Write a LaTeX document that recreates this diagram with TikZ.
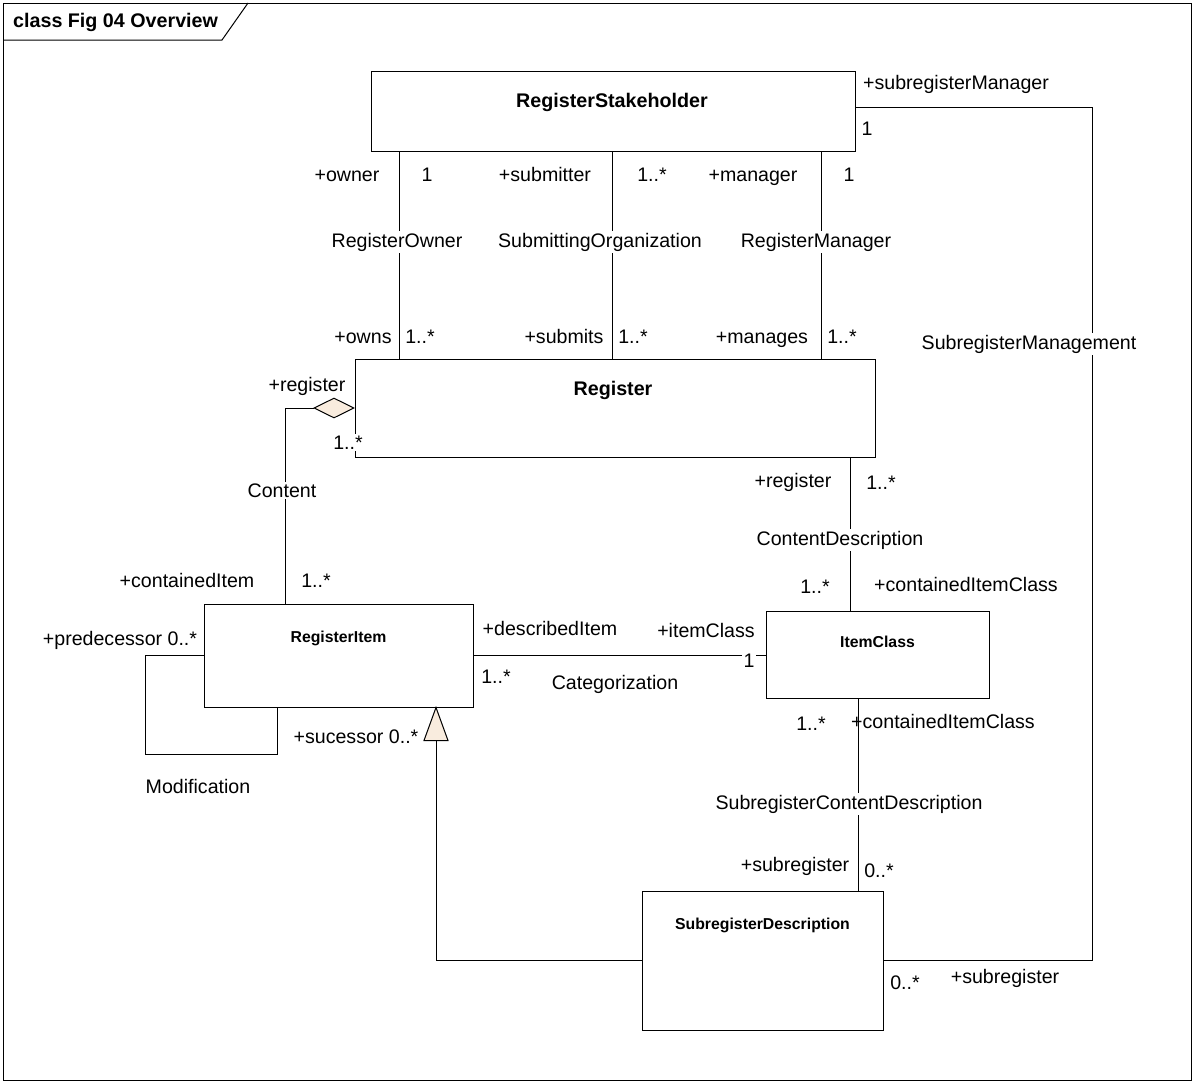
\documentclass[tikz,border=0pt]{standalone}
\usepackage{fontspec}
\setmainfont{Liberation Sans}
\usetikzlibrary{shapes.geometric}
\definecolor{tipfill}{RGB}{249,236,222}
\begin{document}
\begin{tikzpicture}[x=1pt,y=-1pt,
  cls/.style={draw, fill=white, line width=1, inner sep=0},
  conn/.style={draw, line width=1},
  lbl/.style={font=\fontsize{19.6}{23}\selectfont, inner sep=0, anchor=base},
  aname/.style={lbl, fill=white, inner sep=1.5},
  ttl/.style={font=\bfseries\fontsize{19.7}{23}\selectfont, inner sep=0, anchor=base},
  ttls/.style={font=\bfseries\fontsize{15.8}{19}\selectfont, inner sep=0, anchor=base}]
\useasboundingbox (0,0) rectangle (1194,1082);

% diagram frame with its name tab
\draw[line width=1] (3,3) rectangle (1191,1080);
\draw[line width=1] (3,40) -- (222,40) -- (248,3);
\node[ttl, anchor=base west] (frameT) at (13,27) {class Fig 04 Overview};

% classes
\node[cls, minimum width=484, minimum height=80]  (stake) at (613,111) {};
\node[cls, minimum width=520, minimum height=98]  (reg)   at (615,408) {};
\node[cls, minimum width=269, minimum height=103] (ritem) at (338.5,655.5) {};
\node[cls, minimum width=223, minimum height=87]  (icls)  at (877.5,654.5) {};
\node[cls, minimum width=241, minimum height=139] (subd)  at (762.5,961) {};

\node[ttl]  (stakeT) at (612,107)   {RegisterStakeholder};
\node[ttl]  (regT)   at (613,395)   {Register};
\node[ttls] (ritemT) at (338.5,642) {RegisterItem};
\node[ttls] (iclsT)  at (877.5,647) {ItemClass};
\node[ttls] (subdT)  at (762.5,929) {SubregisterDescription};

% routing coordinates
\coordinate (xown) at (399,0);
\coordinate (xsub) at (612,0);
\coordinate (xman) at (821,0);
\coordinate (xcd)  at (850,0);
\coordinate (xscd) at (858,0);
\coordinate (xcont) at (285,0);
\coordinate (ycont) at (0,408);
\coordinate (ycat) at (0,655);
\coordinate (smTop) at (1092,107);
\coordinate (smBot) at (1092,960);
\coordinate (genBase) at (436,740);
\coordinate (xgen) at (436,0);
\coordinate (modBL) at (145,754);
\coordinate (xmod) at (277,0);

% associations from the stakeholder
\draw[conn] (xown |- stake.south) -- (xown |- reg.north);
\draw[conn] (xsub |- stake.south) -- (xsub |- reg.north);
\draw[conn] (xman |- stake.south) -- (xman |- reg.north);
\draw[conn] (stake.east |- smTop) -- (smTop) -- (smBot) -- (subd.east |- smBot);

% aggregation Register <>-- RegisterItem
\node[draw, line width=1, fill=tipfill, diamond, shape aspect=2,
      minimum width=40, minimum height=20, inner sep=0, anchor=east]
      (agg) at (reg.west |- ycont) {};
\draw[conn] (agg.west) -| (xcont |- ritem.north);

% other associations
\draw[conn] (xcd |- reg.south) -- (xcd |- icls.north);
\draw[conn] (ritem.east |- ycat) -- (icls.west |- ycat);
\draw[conn] (xscd |- icls.south) -- (xscd |- subd.north);
\draw[conn] (ritem.west |- ycat) -| (modBL) -| (xmod |- ritem.south);

% generalization SubregisterDescription --|> RegisterItem
\draw[conn] (subd.west |- smBot) -| (genBase);
\draw[line width=1, fill=tipfill] (xgen |- ritem.south) -- ++(12,33) -- ++(-24,0) -- cycle;

% association names
\node[aname] (nOwner) at (397,247) {RegisterOwner};
\node[aname] (nSubm)  at (600,247) {SubmittingOrganization};
\node[aname] (nMan)   at (816,247) {RegisterManager};
\node[aname] (nSM)    at (1029,349) {SubregisterManagement};
\node[aname] (nCont)  at (282,497) {Content};
\node[aname] (nCD)    at (840,545) {ContentDescription};
\node[lbl]   (nCat)   at (615,689) {Categorization};
\node[aname] (nSCD)   at (849,809) {SubregisterContentDescription};
\node[lbl]   (nMod)   at (198,793) {Modification};

% role names and multiplicities
\node[lbl] (r1)  at (347,181) {+owner};
\node[lbl] (m1)  at (427,181) {1};
\node[lbl] (r2)  at (545,181) {+submitter};
\node[lbl] (m2)  at (652,181) {1..*};
\node[lbl] (r3)  at (753,181) {+manager};
\node[lbl] (m3)  at (849,181) {1};
\node[lbl] (r4)  at (363,343) {+owns};
\node[lbl] (m4)  at (420,343) {1..*};
\node[lbl] (r5)  at (564,343) {+submits};
\node[lbl] (m5)  at (633,343) {1..*};
\node[lbl] (r6)  at (762,343) {+manages};
\node[lbl] (m6)  at (842,343) {1..*};
\node[lbl] (r7)  at (956,89)  {+subregisterManager};
\node[lbl] (m7)  at (867,135) {1};
\node[lbl] (r8)  at (307,391) {+register};
\node[aname] (m8) at (348,449) {1..*};
\node[lbl] (r9)  at (187,587) {+containedItem};
\node[lbl] (m9)  at (316,587) {1..*};
\node[lbl] (r10) at (793,487) {+register};
\node[lbl] (m10) at (881,489) {1..*};
\node[lbl] (m11) at (815,593) {1..*};
\node[lbl] (r11) at (966,591) {+containedItemClass};
\node[lbl] (r12) at (550,635) {+describedItem};
\node[lbl] (r13) at (706,637) {+itemClass};
\node[lbl] (m12) at (496,683) {1..*};
\node[aname] (m13) at (749,667) {1};
\node[lbl] (r14) at (120,645) {+predecessor 0..*};
\node[lbl] (r15) at (356,743) {+sucessor 0..*};
\node[lbl] (m14) at (811,730) {1..*};
\node[lbl] (r16) at (943,728) {+containedItemClass};
\node[lbl] (r17) at (795,871) {+subregister};
\node[lbl] (m15) at (879,877) {0..*};
\node[lbl] (m16) at (905,989) {0..*};
\node[lbl] (r18) at (1005,983) {+subregister};
\end{tikzpicture}
\end{document}
